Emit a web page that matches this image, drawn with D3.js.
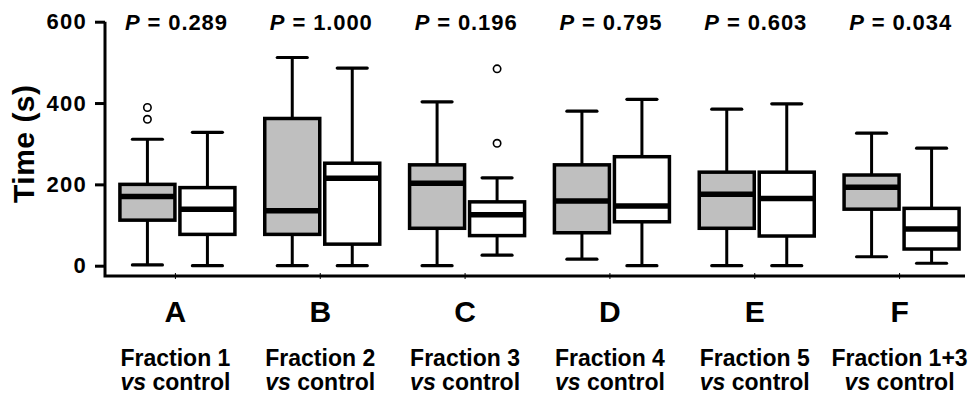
<!DOCTYPE html>
<html>
<head>
<meta charset="utf-8">
<script src="https://cdn.jsdelivr.net/npm/d3@7"></script>
<style>
  html, body { margin: 0; padding: 0; background: #fff; }
  svg { display: block; font-family: "Liberation Sans", Arial, Helvetica, sans-serif; font-weight: bold; }
</style>
</head>
<body>
<svg id="chart" width="976" height="396"></svg>
<script>
// groups and labels
const groups = ["A", "B", "C", "D", "E", "F"];
const pValues = ["0.289", "1.000", "0.196", "0.795", "0.603", "0.034"];
const fractionNames = ["Fraction 1", "Fraction 2", "Fraction 3", "Fraction 4", "Fraction 5", "Fraction 1+3"];
const yTicks = [0, 200, 400, 600];

// fraction (grey) boxes: [min, q1, median, q3, max]
const fractionStats = [
  [2, 112, 170, 200, 311],
  [0, 77, 135, 362, 512],
  [0, 92, 203, 248, 403],
  [16, 81, 159, 248, 380],
  [0, 92, 176, 230, 385],
  [22, 139, 193, 223, 326]
];
const fractionOutliers = [[360, 389], [], [], [], [], []];

// control (white) boxes: [min, q1, median, q3, max]
const controlStats = [
  [0, 77, 139, 192, 328],
  [0, 53, 215, 252, 486],
  [26, 74, 125, 157, 216],
  [0, 108, 147, 268, 409],
  [0, 73, 165, 230, 398],
  [6, 41, 90, 141, 289]
];
const controlOutliers = [[], [], [301, 484], [], [], []];

const svg = d3.select("#chart");

const x = d3.scaleBand().domain(groups).range([105, 974]).paddingInner(0).paddingOuter(0);
const y = d3.scaleLinear().domain([0, 600]).range([265.7, 21.7]);
const cx0 = d => x(d) + x.bandwidth() / 2;

const boxW = 55, capW = 30, offset = 30;

// y axis
const yAxisG = svg.append("g").attr("transform", "translate(105,0)");
yAxisG.call(d3.axisLeft(y).tickValues(yTicks).tickSize(10).tickPadding(8));
yAxisG.select(".domain").remove();
yAxisG.selectAll(".tick line").attr("stroke", "#000").attr("stroke-width", 3);
yAxisG.selectAll(".tick text")
  .attr("fill", "#000").attr("font-size", 22).attr("font-weight", "bold")
  .attr("font-family", "Liberation Sans, Arial, sans-serif")
  .attr("letter-spacing", 1.3);

// axis lines
svg.append("path")
  .attr("d", `M105,${y(600)}V276H965`)
  .attr("fill", "none").attr("stroke", "#000").attr("stroke-width", 3);

// thin x ticks at group centres
svg.append("g").selectAll("line").data(groups).join("line")
  .attr("x1", d => cx0(d) - 2).attr("x2", d => cx0(d) - 2)
  .attr("y1", 273).attr("y2", 279)
  .attr("stroke", "#000").attr("stroke-width", 1);

// y title
svg.append("text")
  .attr("transform", `translate(34,${(y(0) + y(600)) / 2}) rotate(-90)`)
  .attr("text-anchor", "middle")
  .attr("font-size", 30)
  .attr("letter-spacing", 0.5)
  .text("Time (s)");

function drawBoxes(stats, outliers, dx, fill) {
  const g = svg.append("g");
  stats.forEach((s, i) => {
    const cx = cx0(groups[i]) + dx;
    const [mn, q1, med, q3, mx] = s;
    const bg = g.append("g");
    // whiskers
    bg.append("line").attr("x1", cx).attr("x2", cx).attr("y1", y(q3)).attr("y2", y(mx))
      .attr("stroke", "#000").attr("stroke-width", 3);
    bg.append("line").attr("x1", cx).attr("x2", cx).attr("y1", y(q1)).attr("y2", y(mn))
      .attr("stroke", "#000").attr("stroke-width", 3);
    // caps
    [mn, mx].forEach(v => {
      bg.append("line").attr("x1", cx - capW / 2).attr("x2", cx + capW / 2)
        .attr("y1", y(v)).attr("y2", y(v))
        .attr("stroke", "#000").attr("stroke-width", 3.2).attr("stroke-linecap", "round");
    });
    // box
    bg.append("rect")
      .attr("x", cx - boxW / 2).attr("y", y(q3))
      .attr("width", boxW).attr("height", y(q1) - y(q3))
      .attr("fill", fill).attr("stroke", "#000").attr("stroke-width", 3.5);
    // median
    bg.append("line").attr("x1", cx - boxW / 2).attr("x2", cx + boxW / 2)
      .attr("y1", y(med)).attr("y2", y(med))
      .attr("stroke", "#000").attr("stroke-width", 5.5);
    // outliers
    bg.selectAll("circle").data(outliers[i]).join("circle")
      .attr("cx", cx).attr("cy", d => y(d)).attr("r", 3.7)
      .attr("fill", "#fff").attr("stroke", "#000").attr("stroke-width", 1.6);
  });
}

drawBoxes(fractionStats, fractionOutliers, -offset, "#bfbfbf");
drawBoxes(controlStats, controlOutliers, offset, "#fff");

// P values
const pText = svg.append("g").selectAll("text").data(groups).join("text")
  .attr("x", d => cx0(d) - 1)
  .attr("y", 30)
  .attr("text-anchor", "middle")
  .attr("font-size", 22)
  .attr("letter-spacing", 0.9);
pText.append("tspan").attr("font-style", "italic").text("P");
pText.append("tspan").text((d, i) => " = " + pValues[i]);

// group letters
svg.append("g").selectAll("text").data(groups).join("text")
  .attr("x", d => cx0(d) - 2)
  .attr("y", 322)
  .attr("text-anchor", "middle")
  .attr("font-size", 30)
  .text(d => d);

// fraction labels
const fl = svg.append("g").selectAll("text").data(groups).join("text")
  .attr("x", d => cx0(d) - 2)
  .attr("y", 366)
  .attr("text-anchor", "middle")
  .attr("font-size", 23);
fl.append("tspan").attr("x", d => cx0(d) - 2).text((d, i) => fractionNames[i]);
const line2 = fl.append("tspan").attr("x", d => cx0(d) - 2).attr("dy", 24);
line2.append("tspan").attr("font-style", "italic").text("vs");
line2.append("tspan").text(" control");
</script>
</body>
</html>
